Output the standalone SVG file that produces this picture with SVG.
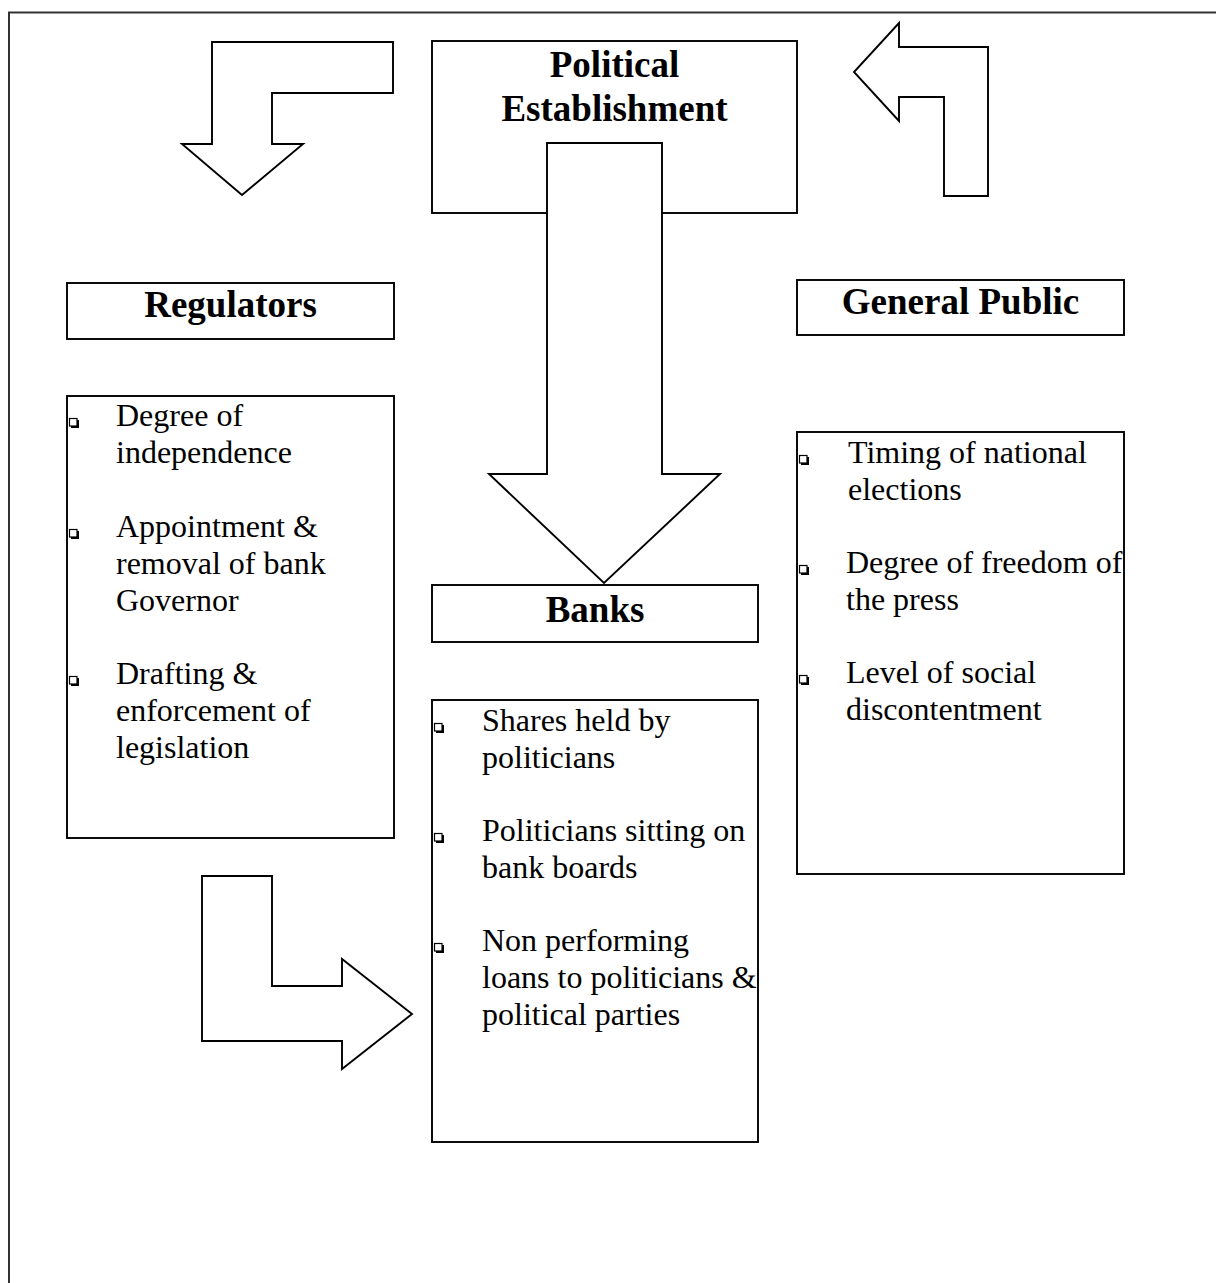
<svg xmlns="http://www.w3.org/2000/svg" width="1216" height="1283" viewBox="0 0 1216 1283">
  <style>
    .box { fill: #ffffff; stroke: #000000; stroke-width: 1.9; }
    .arrow { fill: #ffffff; stroke: #000000; stroke-width: 1.9; stroke-linejoin: miter; }
    .title { font-family: "Liberation Serif", "Times New Roman", serif; font-weight: bold; font-size: 37px; fill: #000000; text-anchor: middle; }
    .item { font-family: "Liberation Serif", "Times New Roman", serif; font-size: 32px; fill: #000000; }
  </style>
  <defs>
    <!-- shadowed square bullet -->
    <g id="bullet">
      <rect x="0.5" y="0.5" width="7.5" height="7.5" fill="#ffffff" stroke="#000000" stroke-width="1.2"/>
      <path d="M2 9 H9 V2" fill="none" stroke="#000000" stroke-width="2"/>
    </g>
  </defs>

  <rect width="1216" height="1283" fill="#ffffff"/>

  <!-- page frame (top and left edges) -->
  <path d="M9 1283 V12.5 H1216" fill="none" stroke="#333333" stroke-width="2"/>

  <!-- Political Establishment -->
  <g id="political-establishment">
    <rect class="box" x="432" y="41" width="365" height="172"/>
    <text class="title" x="614.5" y="77">Political</text>
    <text class="title" x="614.5" y="121">Establishment</text>
  </g>

  <!-- Regulators heading -->
  <g id="regulators">
    <rect class="box" x="67" y="283" width="327" height="56"/>
    <text class="title" x="230.5" y="317">Regulators</text>
  </g>

  <!-- General Public heading -->
  <g id="general-public">
    <rect class="box" x="797" y="280" width="327" height="55"/>
    <text class="title" x="960.5" y="314">General Public</text>
  </g>

  <!-- Banks heading -->
  <g id="banks">
    <rect class="box" x="432" y="585" width="326" height="57"/>
    <text class="title" x="595" y="622">Banks</text>
  </g>

  <!-- Regulators factors -->
  <g id="regulators-factors">
    <rect class="box" x="67" y="396" width="327" height="442"/>
    <use href="#bullet" x="69" y="418"/>
    <text class="item" x="116" y="426">Degree of</text>
    <text class="item" x="116" y="463">independence</text>
    <use href="#bullet" x="69" y="529"/>
    <text class="item" x="116" y="537">Appointment &amp;</text>
    <text class="item" x="116" y="574">removal of bank</text>
    <text class="item" x="116" y="611">Governor</text>
    <use href="#bullet" x="69" y="676"/>
    <text class="item" x="116" y="684">Drafting &amp;</text>
    <text class="item" x="116" y="721">enforcement of</text>
    <text class="item" x="116" y="758">legislation</text>
  </g>

  <!-- General Public factors -->
  <g id="public-factors">
    <rect class="box" x="797" y="432" width="327" height="442"/>
    <use href="#bullet" x="799" y="455"/>
    <text class="item" x="848" y="463">Timing of national</text>
    <text class="item" x="848" y="500">elections</text>
    <use href="#bullet" x="799" y="565"/>
    <text class="item" x="846" y="573">Degree of freedom of</text>
    <text class="item" x="846" y="610">the press</text>
    <use href="#bullet" x="799" y="675"/>
    <text class="item" x="846" y="683">Level of social</text>
    <text class="item" x="846" y="720">discontentment</text>
  </g>

  <!-- Banks factors -->
  <g id="banks-factors">
    <rect class="box" x="432" y="700" width="326" height="442"/>
    <use href="#bullet" x="434" y="723"/>
    <text class="item" x="482" y="731">Shares held by</text>
    <text class="item" x="482" y="768">politicians</text>
    <use href="#bullet" x="434" y="833"/>
    <text class="item" x="482" y="841">Politicians sitting on</text>
    <text class="item" x="482" y="878">bank boards</text>
    <use href="#bullet" x="434" y="943"/>
    <text class="item" x="482" y="951">Non performing</text>
    <text class="item" x="482" y="988">loans to politicians &amp;</text>
    <text class="item" x="482" y="1025">political parties</text>
  </g>

  <!-- block arrows -->
  <g id="connectors">
    <!-- establishment down to banks -->
    <polygon class="arrow" points="547,143 662,143 662,474 720,474 604,583 489,474 547,474"/>
    <!-- bent arrow toward regulators -->
    <polygon class="arrow" points="212,42 393,42 393,93 272,93 272,144 303,144 242,195 182,144 212,144"/>
    <!-- bent arrow from general public -->
    <polygon class="arrow" points="899,23 899,47 988,47 988,196 944,196 944,97 899,97 899,121 854,72"/>
    <!-- bent arrow into banks -->
    <polygon class="arrow" points="202,876 272,876 272,986 342,986 342,959 412,1014 342,1069 342,1041 202,1041"/>
  </g>
</svg>
